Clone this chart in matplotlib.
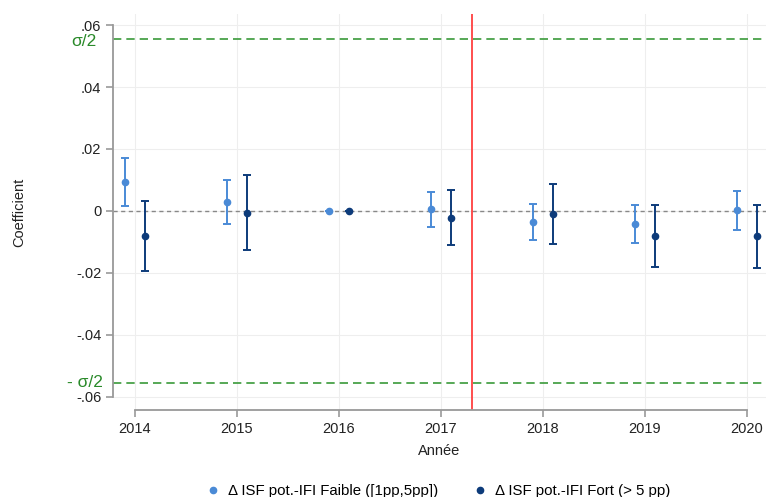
import matplotlib
matplotlib.use("Agg")
import matplotlib.pyplot as plt
import numpy as np

years = [2014, 2015, 2016, 2017, 2018, 2019, 2020]
faible_coef = [0.0094, 0.0028, 0.0, 0.0005, -0.0037, -0.0043, 0.0002]
faible_lo = [0.0017, -0.0041, 0.0, -0.0052, -0.0094, -0.0103, -0.0060]
faible_hi = [0.0170, 0.0099, 0.0, 0.0062, 0.0023, 0.0018, 0.0066]
fort_coef = [-0.0082, -0.0005, 0.0, -0.0022, -0.0010, -0.0082, -0.0082]
fort_lo = [-0.0194, -0.0126, 0.0, -0.0111, -0.0106, -0.0181, -0.0183]
fort_hi = [0.0031, 0.0117, 0.0, 0.0068, 0.0088, 0.0018, 0.0019]
sigma_half = 0.0555
reform_year = 2017.3
yticks = [0.06, 0.04, 0.02, 0.0, -0.02, -0.04, -0.06]
ytick_labels = [".06", ".04", ".02", "0", "-.02", "-.04", "-.06"]
labels = ["\u0394 ISF pot.-IFI Faible ([1pp,5pp])", "\u0394 ISF pot.-IFI Fort (> 5 pp)"]

plt.rcParams['font.family'] = ['Liberation Sans', 'DejaVu Sans']

c_light = "#4a8ad6"
c_dark = "#0d3b7a"

fig = plt.figure(figsize=(7.66, 4.97), dpi=100)
W, H = 766, 497
ax = fig.add_axes([113 / W, 1 - 410 / H, (766 - 113) / W, (410 - 14) / H])

ax.set_xlim(2013.784, 2020.186)
ax.set_ylim(-0.0642, 0.06355)

ax.set_xticks(years)
ax.set_yticks(yticks)
ax.set_yticklabels(ytick_labels)
ax.grid(True, color="#eeeeee", linewidth=0.8)
ax.set_axisbelow(True)

for s in ["top", "right"]:
    ax.spines[s].set_visible(False)
for s in ["left", "bottom"]:
    ax.spines[s].set_color("#999999")
    ax.spines[s].set_linewidth(1.3)
ax.spines["left"].set_bounds(-0.06, 0.06)
ax.spines["bottom"].set_bounds(2014, 2020)
ax.tick_params(axis="both", colors="#999999", labelcolor="#222222", labelsize=10.5, length=5, width=1.2)

ax.axhline(0, color="#888888", linestyle=(0, (3, 2.5)), linewidth=1.0, zorder=1)
ax.axhline(sigma_half, color="#3a9a3a", linestyle=(0, (5, 3)), linewidth=1.2, zorder=1)
ax.axhline(-sigma_half, color="#3a9a3a", linestyle=(0, (5, 3)), linewidth=1.2, zorder=1)
ax.axvline(reform_year, color="#ff4040", linewidth=1.3, zorder=2)

x = np.array(years, dtype=float)
fc = np.array(faible_coef); fl = np.array(faible_lo); fh = np.array(faible_hi)
dc = np.array(fort_coef); dl = np.array(fort_lo); dh = np.array(fort_hi)

ax.errorbar(x - 0.1, fc, yerr=[fc - fl, fh - fc], fmt="o", color=c_light, ms=4.5,
            capsize=3.2, elinewidth=1.4, capthick=1.4, zorder=3, label=labels[0])
ax.errorbar(x + 0.1, dc, yerr=[dc - dl, dh - dc], fmt="o", color=c_dark, ms=4.5,
            capsize=3.2, elinewidth=1.4, capthick=1.4, zorder=3, label=labels[1])

ax.annotate("\u03c3/2", xy=(0, sigma_half), xycoords=ax.get_yaxis_transform(),
            xytext=(-16, -1), textcoords="offset pixels", color="#2a8a2a",
            fontsize=12.5, ha="right", va="center_baseline", annotation_clip=False)
ax.annotate("- \u03c3/2", xy=(0, -sigma_half), xycoords=ax.get_yaxis_transform(),
            xytext=(-10, 2), textcoords="offset pixels", color="#2a8a2a",
            fontsize=12.5, ha="right", va="center_baseline", annotation_clip=False)

ax.set_xlabel("Ann\u00e9e", fontsize=10.5, color="#222222", labelpad=6)
ax.set_ylabel("Coefficient", fontsize=10.5, color="#222222", labelpad=36)

h1 = plt.Line2D([], [], marker="o", linestyle="none", color=c_light, ms=4.5)
h2 = plt.Line2D([], [], marker="o", linestyle="none", color=c_dark, ms=4.5)
fig.legend([h1, h2], labels, loc="center", bbox_to_anchor=(0.5715, 1 - 491 / H), ncol=2,
           frameon=False, fontsize=10.8, handletextpad=0.5, columnspacing=2.3, handlelength=1.0)

fig.savefig("out.png", dpi=100)
